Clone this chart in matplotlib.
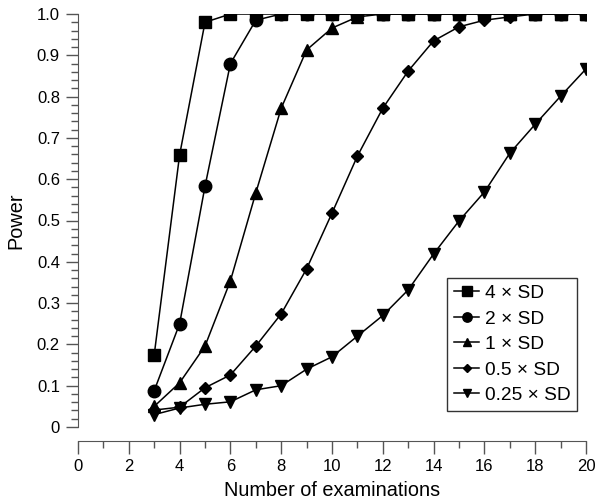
import numpy as np
import matplotlib.pyplot as plt
from matplotlib.ticker import MultipleLocator

plt.rcParams['font.family'] = ['Liberation Sans', 'DejaVu Sans']

# Power curves for different effect sizes
exams = np.arange(3, 21)
power_4sd = [0.175, 0.659, 0.98, 1.0, 1.0, 1.0, 1.0, 1.0, 1.0, 1.0, 1.0, 1.0, 1.0, 1.0, 1.0, 1.0, 1.0, 1.0]
power_2sd = [0.088, 0.25, 0.583, 0.88, 0.985, 1.0, 1.0, 1.0, 1.0, 1.0, 1.0, 1.0, 1.0, 1.0, 1.0, 1.0, 1.0, 1.0]
power_1sd = [0.05, 0.107, 0.196, 0.354, 0.567, 0.772, 0.913, 0.966, 0.993, 1.0, 1.0, 1.0, 1.0, 1.0, 1.0, 1.0, 1.0, 1.0]
power_05sd = [0.041, 0.048, 0.095, 0.126, 0.196, 0.274, 0.383, 0.518, 0.656, 0.772, 0.862, 0.935, 0.969, 0.985, 0.993, 1.0, 1.0, 1.0]
power_025sd = [0.03, 0.046, 0.055, 0.061, 0.09, 0.10, 0.14, 0.17, 0.22, 0.27, 0.332, 0.419, 0.499, 0.569, 0.663, 0.733, 0.801, 0.867]

labels = ["4 \u00d7 SD", "2 \u00d7 SD", "1 \u00d7 SD", "0.5 \u00d7 SD", "0.25 \u00d7 SD"]
series = [power_4sd, power_2sd, power_1sd, power_05sd, power_025sd]
markers = ["s", "o", "^", "D", "v"]
sizes = [9, 9, 8, 6, 8]

fig = plt.figure(figsize=(6.03, 5.04), dpi=100)
ax = fig.add_axes([0.1294, 0.1528, 0.8424, 0.8194])

# draw in reverse order so the strongest curves sit on top
for vals, m, s, lab in reversed(list(zip(series, markers, sizes, labels))):
    ax.plot(exams, vals, color="black", marker=m, markersize=s, linewidth=1.1, label=lab)

ax.set_xlim(0, 20)
ax.set_ylim(0, 1.0)
ax.xaxis.set_major_locator(MultipleLocator(2))
ax.xaxis.set_minor_locator(MultipleLocator(1))
ax.yaxis.set_minor_locator(MultipleLocator(0.02))
ax.set_yticks(np.arange(0, 1.01, 0.1))
ax.set_yticklabels(["0"] + ["%.1f" % v for v in np.arange(0.1, 1.01, 0.1)])

ax.spines["top"].set_visible(False)
ax.spines["right"].set_visible(False)
ax.spines["bottom"].set_position(("outward", 10))
for sp in ax.spines.values():
    sp.set_color("#555555")
ax.tick_params(which="major", length=9, width=1, color="#555555", labelsize=12, pad=4)
ax.tick_params(which="minor", length=5, width=1, color="#555555")

ax.set_xlabel("Number of examinations", fontsize=14.3, labelpad=5)
ax.set_ylabel("Power", fontsize=14.3, labelpad=8)

handles, labs = ax.get_legend_handles_labels()
leg = ax.legend(handles[::-1], labs[::-1], loc="lower right", bbox_to_anchor=(0.99, 0.03),
                fontsize=13.8, frameon=True, fancybox=False, handlelength=1.3,
                handletextpad=0.3, labelspacing=0.42, borderpad=0.35, markerscale=0.75,
                borderaxespad=0.2)
leg.get_frame().set_edgecolor("black")
leg.get_frame().set_linewidth(1.0)

fig.savefig("out.png", dpi=100)
